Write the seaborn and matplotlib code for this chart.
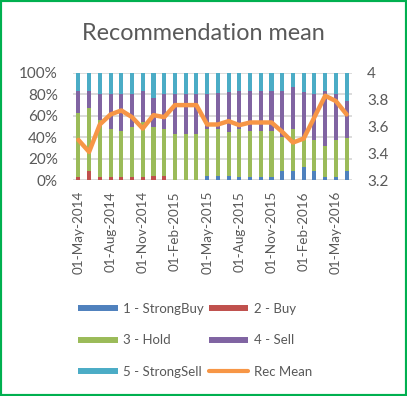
import matplotlib
matplotlib.use('Agg')
import matplotlib.pyplot as plt
from matplotlib.lines import Line2D
from matplotlib.patches import Rectangle
import numpy as np
import pandas as pd
import seaborn as sns

months = pd.date_range('2014-05-01', periods=26, freq='MS').strftime('%d-%b-%Y').tolist()

# shares in percent, per month
strong_buy = [0, 0, 0, 0, 0, 0, 0, 0, 0, 0, 0, 0, 4, 4, 4, 3, 3, 3, 3, 8, 8, 12.5, 8, 3, 3, 8]
buy = [3, 8, 3, 3, 3, 3, 3, 4, 4, 0, 0, 0, 0, 0, 0, 0, 0, 0, 0, 0, 0, 0, 0, 0, 0, 0]
hold = [60, 59, 53, 44.5, 42.6, 47, 51, 46, 43.5, 43, 43, 43, 43.5, 43.5, 41, 44.5,
        43, 43, 42.6, 32, 39.5, 27.5, 29, 29, 34, 31]
sell = [20.6, 16.6, 24, 32.5, 34.4, 30, 29.6, 27, 32.5, 37, 37, 37, 32.5, 33.5, 37, 35.5,
        37, 37, 37.4, 43, 39.5, 42.7, 43, 51, 43, 35]
strong_sell = [16.4, 16.4, 20, 20, 20, 20, 16.4, 23, 20, 20, 20, 20, 20, 19, 18, 17,
               17, 17, 17, 17, 13, 17.3, 20, 17, 20, 26]
rec_mean = [3.50, 3.41, 3.615, 3.69, 3.72, 3.67, 3.585, 3.685, 3.67, 3.76, 3.76, 3.76,
            3.615, 3.615, 3.64, 3.61, 3.63, 3.63, 3.63, 3.56, 3.48, 3.51, 3.67, 3.83, 3.79, 3.69]

names = ['1 - StrongBuy', '2 - Buy', '3 - Hold', '4 - Sell', '5 - StrongSell']
colors = ['#4F81BD', '#C0504D', '#9BBB59', '#8064A2', '#4BACC6']
orange = '#F79646'
grey = '#595959'

sns.set_style('white')
plt.rcParams['font.family'] = ['Lato', 'DejaVu Sans']

df = pd.DataFrame({'month': months, names[0]: strong_buy, names[1]: buy,
                   names[2]: hold, names[3]: sell, names[4]: strong_sell})
cum = df[names].cumsum(axis=1)

fig = plt.figure(figsize=(4.07, 3.96), dpi=100)
ax = fig.add_axes([73 / 407, 1 - 180 / 396, 279 / 407, 107 / 396])

# stacked bars: draw cumulative totals from the top layer down
for name, c in zip(names[::-1], colors[::-1]):
    sns.barplot(x=df['month'], y=cum[name], color=c, saturation=1, width=0.38,
                errorbar=None, ax=ax, zorder=2, linewidth=0, edgecolor='none')

ax.set_ylim(0, 100)
ax.set_xlim(-0.5, len(months) - 0.5)
ax.set_yticks(np.arange(0, 101, 20))
ax.set_yticklabels([f'{v}%' for v in range(0, 101, 20)])
ax.yaxis.grid(True, color='#D9D9D9', lw=1.3, zorder=0)
ax.set_axisbelow(True)
ax.set_xticks(range(0, len(months), 3))
ax.set_xticklabels(months[::3], rotation=90)
ax.set_xlabel('')
ax.set_ylabel('')
ax.tick_params(axis='y', length=0, pad=11, labelsize=11, labelcolor=grey)
ax.tick_params(axis='x', length=0, pad=8, labelsize=9.7, labelcolor=grey)
for s in ax.spines.values():
    s.set_visible(False)

ax2 = ax.twinx()
sns.lineplot(x=np.arange(len(months)), y=rec_mean, color=orange, lw=3.2,
             ax=ax2, solid_joinstyle='round')
ax2.set_ylim(3.2, 4.0)
ax2.set_yticks([3.2, 3.4, 3.6, 3.8, 4.0])
ax2.set_yticklabels(['3.2', '3.4', '3.6', '3.8', '4'])
ax2.tick_params(axis='y', length=0, pad=11, labelsize=11, labelcolor=grey)
for s in ax2.spines.values():
    s.set_visible(False)

fig.text(0.5, 1 - 33 / 396, 'Recommendation mean', ha='center', va='center',
         fontsize=16.8, color=grey)

handles = [Line2D([], [], color=c, lw=4.3, solid_capstyle='butt') for c in colors]
handles.append(Line2D([], [], color=orange, lw=3, solid_capstyle='round'))
labels = names + ['Rec Mean']
order = [0, 2, 4, 1, 3, 5]
fig.legend([handles[i] for i in order], [labels[i] for i in order], ncol=2,
           loc='upper left', bbox_to_anchor=(78 / 407, 1 - 303 / 396), frameon=False,
           fontsize=9.5, labelcolor=grey, handlelength=3.0, handletextpad=0.4,
           columnspacing=0.4, labelspacing=1.47, borderpad=0, borderaxespad=0)

fig.patches.append(Rectangle((0, 0), 1, 1, transform=fig.transFigure, fill=False,
                             edgecolor='#00B050', lw=3, zorder=10))

fig.savefig('out.png', dpi=100)
